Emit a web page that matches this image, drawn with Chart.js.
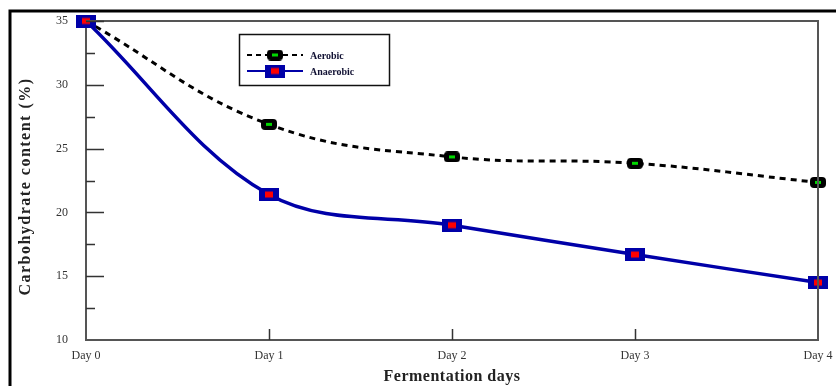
<!DOCTYPE html>
<html lang="en">
<head>
  <meta charset="UTF-8">
  <title>Carbohydrate content</title>
  <script src="https://cdn.jsdelivr.net/npm/chart.js"></script>
  <style>
    html, body { margin: 0; padding: 0; background: #fff; }
    #wrap { width: 836px; height: 386px; }
  </style>
</head>
<body>
  <div id="wrap"><canvas id="chart" width="836" height="386"></canvas></div>
  <script>
    // data
    const days = ['Day 0', 'Day 1', 'Day 2', 'Day 3', 'Day 4'];
    const aerobic = [35, 26.9, 24.35, 23.85, 22.35];
    const anaerobic = [35, 21.4, 19.0, 16.7, 14.5];
    const seriesNames = ['Aerobic', 'Anaerobic'];
    const xTitle = 'Fermentation days';
    const yTitle = 'Carbohydrate content (%)';
    const yMin = 10, yMax = 35, yStep = 5;

    const serif = '"Liberation Serif", "DejaVu Serif", serif';

    // marker images
    function makeMarker(w, h, outer, inner, iw, ih, r) {
      const c = document.createElement('canvas');
      c.width = w; c.height = h;
      const g = c.getContext('2d');
      g.fillStyle = outer;
      g.beginPath();
      g.roundRect(0, 0, w, h, r);
      g.fill();
      g.fillStyle = inner;
      g.fillRect((w - iw) / 2, (h - ih) / 2, iw, ih);
      return c;
    }
    const aeroMark = makeMarker(16, 11, '#000', '#00d800', 6, 3, 4);
    const anaeMark = makeMarker(20, 13, '#0000a8', '#ff0000', 8, 6, 0);

    // frame, titles, inward ticks, box and legend
    const decor = {
      id: 'decor',
      beforeDraw(chart) {
        const ctx = chart.ctx;
        const a = chart.chartArea;
        ctx.save();
        ctx.strokeStyle = '#000';
        ctx.lineWidth = 3;
        ctx.beginPath();
        ctx.moveTo(10, 386);
        ctx.lineTo(10, 11);
        ctx.lineTo(836, 11);
        ctx.stroke();

        ctx.fillStyle = '#222';
        ctx.textAlign = 'center';
        ctx.textBaseline = 'middle';
        ctx.font = 'bold 16px ' + serif;
        ctx.letterSpacing = '0.5px';
        ctx.fillText(xTitle, (a.left + a.right) / 2, 377);
        ctx.letterSpacing = '1.5px';
        ctx.translate(26, (a.top + a.bottom) / 2 + 6);
        ctx.rotate(-Math.PI / 2);
        ctx.fillText(yTitle, 0, 0);
        ctx.restore();
      },
      afterDatasetsDraw(chart) {
        const ctx = chart.ctx;
        const a = chart.chartArea;
        const ys = chart.scales.y, xs = chart.scales.x;
        ctx.save();
        ctx.strokeStyle = '#555';
        ctx.lineWidth = 2;
        ctx.beginPath();
        ctx.moveTo(a.left, a.top);
        ctx.lineTo(a.right, a.top);
        ctx.lineTo(a.right, a.bottom);
        ctx.stroke();
        ctx.strokeStyle = '#333';
        ctx.lineWidth = 1.5;
        ctx.beginPath();
        ys.ticks.forEach(t => {
          const py = Math.round(ys.getPixelForValue(t.value)) + 0.5;
          const len = (t.value % yStep === 0) ? 18 : 9;
          if (t.value === yMin) return;
          ctx.moveTo(a.left, py);
          ctx.lineTo(a.left + len, py);
        });
        for (let i = 1; i < days.length - 1; i++) {
          const px = Math.round(xs.getPixelForValue(i)) + 0.5;
          ctx.moveTo(px, a.bottom);
          ctx.lineTo(px, a.bottom - 11);
        }
        ctx.stroke();

        // legend
        const bx = 239.5, by = 34.5, bw = 150, bh = 51;
        ctx.strokeStyle = '#111';
        ctx.lineWidth = 1.5;
        ctx.strokeRect(bx, by, bw, bh);
        const rows = [
          { y: 55, color: '#000', dash: [5, 4], img: aeroMark },
          { y: 71, color: '#0000a8', dash: [], img: anaeMark }
        ];
        ctx.font = 'bold 10px ' + serif;
        ctx.textBaseline = 'middle';
        ctx.textAlign = 'left';
        rows.forEach((r, i) => {
          ctx.strokeStyle = r.color;
          ctx.lineWidth = 2;
          ctx.setLineDash(r.dash);
          ctx.beginPath();
          ctx.moveTo(247, r.y);
          ctx.lineTo(303, r.y);
          ctx.stroke();
          ctx.setLineDash([]);
          ctx.drawImage(r.img, 275 - r.img.width / 2, r.y - r.img.height / 2);
          ctx.fillStyle = '#111133';
          ctx.fillText(seriesNames[i], 310, r.y + 1);
        });
        ctx.restore();
      }
    };

    new Chart(document.getElementById('chart'), {
      type: 'line',
      data: {
        labels: days,
        datasets: [{
          label: seriesNames[0],
          data: aerobic,
          borderColor: '#000',
          borderWidth: 3,
          borderDash: [6, 5],
          tension: 0.4,
          pointStyle: aeroMark,
          pointRadius: 6,
          clip: false,
          order: 1
        }, {
          label: seriesNames[1],
          data: anaerobic,
          borderColor: '#0000a8',
          borderWidth: 3.5,
          tension: 0.35,
          pointStyle: anaeMark,
          pointRadius: 7,
          clip: false,
          order: 0
        }]
      },
      options: {
        responsive: false,
        animation: false,
        layout: { padding: { left: 0, top: 21, right: 18, bottom: 0 } },
        plugins: { legend: { display: false }, tooltip: { enabled: false } },
        scales: {
          x: {
            offset: false,
            grid: { display: false, drawTicks: false },
            border: { color: '#555', width: 2 },
            ticks: { color: '#333', padding: 9, font: { family: serif, size: 12 } },
            afterFit(s) { s.height = 46; s.paddingLeft = 0; s.paddingRight = 0; }
          },
          y: {
            min: yMin,
            max: yMax,
            grid: { display: false, drawTicks: false },
            border: { color: '#555', width: 2 },
            ticks: {
              stepSize: 2.5,
              color: '#333',
              padding: 18,
              font: { family: serif, size: 12 },
              callback: v => (v % yStep === 0 ? v : '')
            },
            afterFit(s) { s.width = 86; s.paddingTop = 0; s.paddingBottom = 0; }
          }
        }
      },
      plugins: [decor]
    });
  </script>
</body>
</html>
